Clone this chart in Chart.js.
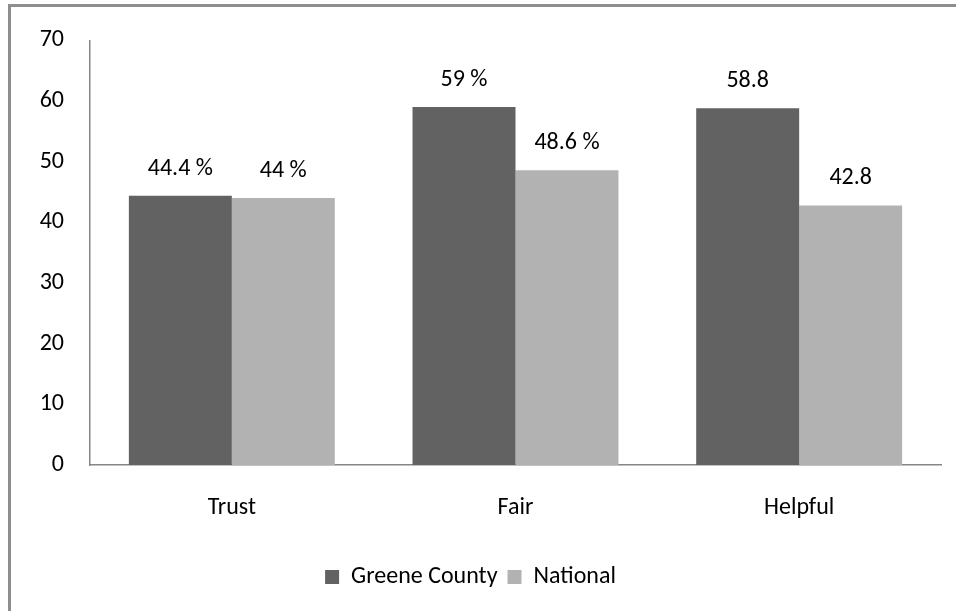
<!DOCTYPE html>
<html>
<head>
<meta charset="utf-8">
<script src="https://cdn.jsdelivr.net/npm/chart.js@4"></script>
<style>
  html, body { margin: 0; padding: 0; background: #fff; }
  #wrap { position: relative; width: 956px; height: 611px; overflow: hidden; }
  #frame { position: absolute; left: 8px; top: 4px; right: -10px; bottom: -10px;
           border-top: 3px solid #8e8e8e; border-left: 3px solid #8e8e8e; }
  canvas { position: absolute; left: 0; top: 0; }
</style>
</head>
<body>
<div id="wrap">
  <div id="frame"></div>
  <canvas id="chart" width="956" height="611"></canvas>
</div>
<script>
// data
const categories = ['Trust', 'Fair', 'Helpful'];
const greeneValues = [44.4, 59, 58.8];
const nationalValues = [44, 48.6, 42.8];
const greeneLabels = ['44.4 %', '59 %', '58.8'];
const nationalLabels = ['44 %', '48.6 %', '42.8'];
const yTicks = [0, 10, 20, 30, 40, 50, 60, 70];

const fontFamily = 'Carlito, Lato, "Open Sans", sans-serif';
const fontSize = 24;

// value labels above each bar
const barLabels = {
    id: 'barLabels',
    afterDatasetsDraw(chart) {
        const ctx = chart.ctx;
        const texts = [greeneLabels, nationalLabels];
        ctx.save();
        ctx.font = fontSize + 'px ' + fontFamily;
        ctx.fillStyle = '#000';
        ctx.textAlign = 'center';
        ctx.textBaseline = 'middle';
        chart.data.datasets.forEach((ds, i) => {
            chart.getDatasetMeta(i).data.forEach((bar, j) => {
                ctx.fillText(texts[i][j], bar.x, bar.y - 27);
            });
        });
        ctx.restore();
    }
};

const ctx = document.getElementById('chart').getContext('2d');
new Chart(ctx, {
    type: 'bar',
    data: {
        labels: categories,
        datasets: [
            {
                label: 'Greene County',
                data: greeneValues,
                backgroundColor: '#626262',
                categoryPercentage: 0.726,
                barPercentage: 1.0
            },
            {
                label: 'National',
                data: nationalValues,
                backgroundColor: '#b2b2b2',
                categoryPercentage: 0.726,
                barPercentage: 1.0
            }
        ]
    },
    options: {
        responsive: false,
        animation: false,
        layout: { padding: { top: 34, right: 15, bottom: 12, left: 0 } },
        scales: {
            x: {
                grid: { display: false, drawTicks: false },
                border: { color: '#868686', width: 1.5 },
                ticks: { color: '#000', padding: 29, font: { family: fontFamily, size: fontSize } },
                afterFit: (scale) => { scale.height = 90; }
            },
            y: {
                min: 0,
                max: 70,
                afterBuildTicks: (scale) => { scale.ticks = yTicks.map(v => ({ value: v })); },
                grid: { display: false, drawTicks: false },
                border: { color: '#868686', width: 1.5 },
                ticks: { color: '#000', padding: 26, font: { family: fontFamily, size: fontSize } },
                afterFit: (scale) => { scale.width = 90; }
            }
        },
        plugins: {
            legend: {
                position: 'bottom',
                labels: {
                    color: '#000',
                    boxWidth: 14,
                    boxHeight: 14,
                    padding: 10,
                    font: { family: fontFamily, size: fontSize }
                }
            },
            tooltip: { enabled: false }
        }
    },
    plugins: [barLabels]
});
</script>
</body>
</html>
